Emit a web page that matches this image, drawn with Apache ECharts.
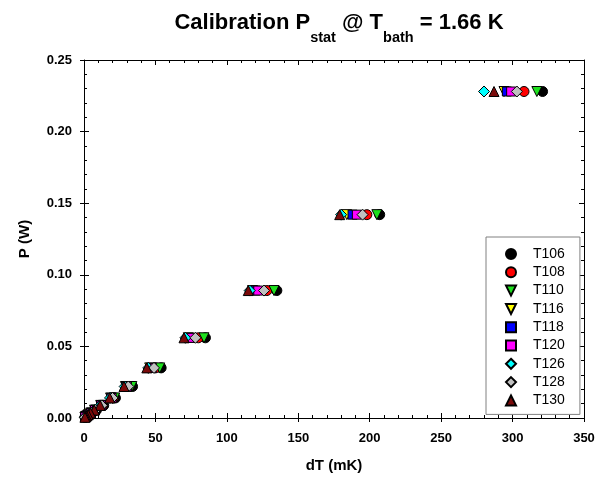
<!DOCTYPE html>
<html>
<head>
<meta charset="utf-8">
<script src="https://cdn.jsdelivr.net/npm/echarts@6/dist/echarts.min.js"></script>
<style>html,body{margin:0;padding:0;background:#fff;}#c{width:602px;height:481px;}</style>
</head>
<body>
<div id="c"></div>
<script>
// Power levels (W)
const P = [0.228, 0.142, 0.089, 0.056, 0.035, 0.022, 0.014, 0.0088, 0.0055, 0.0035, 0.0022, 0.0014, 0.0009, 0.0005];
// dT (mK) per sensor
const T106 = [321, 207, 135, 85, 54, 34, 22, 13.8, 8.7, 5.6, 3.5, 2.3, 1.4, 0.8];
const T108 = [308, 198, 128, 80, 50, 32, 20.5, 12.8, 8.1, 5.2, 3.3, 2.1, 1.3, 0.75];
const T110 = [317, 205, 133, 84, 53, 33.5, 21.5, 13.4, 8.5, 5.4, 3.4, 2.2, 1.4, 0.8];
const T116 = [294, 184, 118, 73, 46, 29, 18.6, 11.7, 7.4, 4.7, 3.0, 1.9, 1.2, 0.7];
const T118 = [296, 188, 120, 74, 47, 29.5, 19, 11.9, 7.6, 4.8, 3.0, 1.95, 1.2, 0.7];
const T120 = [299, 191, 122, 75, 47.5, 30, 19.3, 12.1, 7.7, 4.9, 3.1, 2.0, 1.25, 0.7];
const T126 = [280, 180, 116, 71, 45, 28.5, 18.2, 11.4, 7.3, 4.6, 2.9, 1.85, 1.15, 0.65];
const T128 = [303, 195, 126, 78, 49, 31, 20, 12.5, 8.0, 5.1, 3.2, 2.05, 1.3, 0.72];
const T130 = [287, 179, 115, 70, 44, 28, 18, 11.3, 7.2, 4.6, 2.9, 1.8, 1.15, 0.65];

const sensorNames = ['T106','T108','T110','T116','T118','T120','T126','T128','T130'];
const sensorData = [T106, T108, T110, T116, T118, T120, T126, T128, T130];
const xTicks = [0, 50, 100, 150, 200, 250, 300, 350];
const yTicks = [0, 0.05, 0.10, 0.15, 0.20, 0.25];

const downTri = 'path://M0,0 L10,0 L5,10 Z';
const styles = [
  {symbol:'circle', color:'#000000'},
  {symbol:'circle', color:'#ff0000'},
  {symbol:downTri, color:'#1ee01e'},
  {symbol:downTri, color:'#ffff00'},
  {symbol:'rect', color:'#0000ff'},
  {symbol:'rect', color:'#ff00ff'},
  {symbol:'diamond', color:'#00ffff'},
  {symbol:'diamond', color:'#c0c0c0'},
  {symbol:'triangle', color:'#7a0a0a'}
];
const sizes = [10, 10, 10, 10, 9, 9, 11, 11, 10];

const series = sensorNames.map((n, i) => ({
  name: n,
  type: 'scatter',
  xAxisIndex: 0, yAxisIndex: 0,
  symbol: styles[i].symbol,
  symbolSize: sizes[i],
  symbolKeepAspect: true,
  itemStyle: {color: styles[i].color, borderColor: '#000', borderWidth: 1, opacity: 1},
  data: sensorData[i].map((d, k) => [d, P[k]]),
  z: 3 + i
}));

const FF = 'Liberation Sans, Arial, sans-serif';
const xBase = {type:'value', min: xTicks[0], max: xTicks[xTicks.length-1], interval: 50};
const yBase = {type:'value', min: yTicks[0], max: yTicks[yTicks.length-1], interval: 0.05};
const lineS = {show:true, onZero:false, lineStyle:{color:'#000', width:1}};
const tickIn = {show:true, inside:true, length:5, lineStyle:{color:'#000', width:1}};
const minorIn = {show:true, splitNumber:5, length:3, lineStyle:{color:'#000', width:1}};
const tickOut = {show:true, inside:false, length:4, lineStyle:{color:'#000', width:1}};
const gridRect = {left: 84, right: 18, top: 60, bottom: 63, containLabel: false};

const chart = echarts.init(document.getElementById('c'), null, {renderer:'canvas'});
chart.setOption({
  animation: false,
  backgroundColor: '#fff',
  title: {
    left: 334, top: 7, textAlign: 'center',
    text: '{a|Calibration P}{s|stat}{a| @ T}{s|bath}{a| = 1.66 K}',
    textStyle: {
      rich: {
        a: {fontFamily: FF, fontSize: 22, fontWeight:'bold', color:'#000', lineHeight: 33, verticalAlign:'top'},
        s: {fontFamily: FF, fontSize: 14.5, fontWeight:'bold', color:'#000', lineHeight: 33, verticalAlign:'bottom', padding:[13,0,0,0]}
      }
    }
  },
  grid: [Object.assign({}, gridRect), Object.assign({}, gridRect)],
  legend: {
    orient: 'vertical', left: 486, top: 237,
    padding: [10, 15, 7, 19],
    itemWidth: 10, itemHeight: 10, itemGap: 4.3,
    backgroundColor: '#fff', borderColor: '#808080', borderWidth: 1,
    selectedMode: false,
    textStyle: {fontFamily: FF, fontSize: 14, color:'#000', padding:[0,0,0,12]},
    data: sensorNames
  },
  xAxis: [
    Object.assign({}, xBase, {
      gridIndex: 0, position:'bottom', axisLine: lineS,
      axisTick: tickIn, minorTick: minorIn,
      axisLabel: {show:true, margin: 14, fontFamily: FF, fontSize: 13, fontWeight:'bold', color:'#000',
                  formatter: v => String(v)},
      splitLine: {show:false},
      name: 'dT (mK)', nameLocation:'middle', nameGap: 40,
      nameTextStyle: {fontFamily: FF, fontSize: 15, fontWeight:'bold', color:'#000'}
    }),
    Object.assign({}, xBase, {
      gridIndex: 0, position:'top', axisLine: lineS,
      axisTick: tickIn, minorTick: minorIn,
      axisLabel:{show:false}, splitLine:{show:false}
    }),
    Object.assign({}, xBase, {
      gridIndex: 1, position:'bottom', axisLine:{show:false},
      axisTick: tickOut, axisLabel:{show:false}, splitLine:{show:false}
    })
  ],
  yAxis: [
    Object.assign({}, yBase, {
      gridIndex: 0, position:'left', axisLine: lineS,
      axisTick: tickIn, minorTick: minorIn,
      axisLabel: {show:true, margin: 12, fontFamily: FF, fontSize: 13, fontWeight:'bold', color:'#000',
                  formatter: v => v.toFixed(2)},
      splitLine: {show:false},
      name: 'P (W)', nameLocation:'middle', nameGap: 52, nameRotate: 90,
      nameTextStyle: {fontFamily: FF, fontSize: 15, fontWeight:'bold', color:'#000'}
    }),
    Object.assign({}, yBase, {
      gridIndex: 0, position:'right', axisLine: lineS,
      axisTick: tickIn, minorTick: minorIn,
      axisLabel:{show:false}, splitLine:{show:false}
    }),
    Object.assign({}, yBase, {
      gridIndex: 1, position:'left', axisLine:{show:false},
      axisTick: tickOut, axisLabel:{show:false}, splitLine:{show:false}
    })
  ],
  series: series
});
</script>
</body>
</html>
